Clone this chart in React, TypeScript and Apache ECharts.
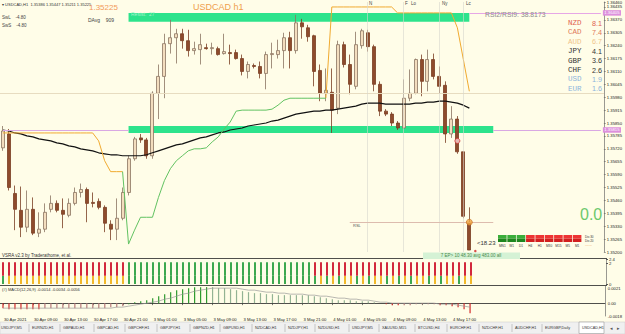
import React, { useEffect, useRef } from 'react';
import * as echarts from 'echarts';

// ---------- DATA ----------
const opens = [1.35725, 1.35795, 1.35495, 1.35410, 1.35325, 1.35415, 1.35295, 1.35315, 1.35415, 1.35445,
  1.35410, 1.35385, 1.35445, 1.35500, 1.35515, 1.35450, 1.35455, 1.35425, 1.35340, 1.35315,
  1.35370, 1.35500, 1.35670, 1.35775, 1.35765, 1.35685, 1.36000, 1.36085, 1.36250, 1.36280,
  1.36300, 1.36265, 1.36215, 1.36220, 1.36230, 1.36225, 1.36225, 1.36200, 1.36205, 1.36205,
  1.36175, 1.36110, 1.36140, 1.36135, 1.36100, 1.36195, 1.36195, 1.36215, 1.36280, 1.36215,
  1.36355, 1.36330, 1.36290, 1.36115, 1.36000, 1.36005, 1.35925, 1.36245, 1.36145, 1.36035,
  1.36240, 1.36305, 1.36235, 1.36045, 1.35910, 1.35895, 1.35850, 1.35825, 1.35975, 1.36000,
  1.36170, 1.36060, 1.36170, 1.36085, 1.36040, 1.35795, 1.35870, 1.35705, 1.35350];
const closes = [1.35810, 1.35525, 1.35415, 1.35325, 1.35415, 1.35295, 1.35315, 1.35400, 1.35445, 1.35410,
  1.35390, 1.35445, 1.35500, 1.35515, 1.35445, 1.35445, 1.35425, 1.35345, 1.35315, 1.35370,
  1.35500, 1.35670, 1.35770, 1.35765, 1.35685, 1.36000, 1.36085, 1.36250, 1.36280, 1.36300,
  1.36265, 1.36215, 1.36225, 1.36245, 1.36225, 1.36230, 1.36195, 1.36210, 1.36200, 1.36175,
  1.36110, 1.36145, 1.36135, 1.36100, 1.36195, 1.36200, 1.36215, 1.36280, 1.36215, 1.36355,
  1.36335, 1.36285, 1.36110, 1.36000, 1.36015, 1.35915, 1.36245, 1.36145, 1.36045, 1.36245,
  1.36315, 1.36235, 1.36045, 1.35910, 1.35895, 1.35850, 1.35825, 1.35975, 1.36000, 1.36170,
  1.36060, 1.36170, 1.36085, 1.36035, 1.35795, 1.35870, 1.35705, 1.35380, 1.35210];
const lows = [1.35710, 1.35510, 1.35310, 1.35275, 1.35300, 1.35285, 1.35275, 1.35300, 1.35400, 1.35400,
  1.35320, 1.35375, 1.35435, 1.35475, 1.35350, 1.35425, 1.35415, 1.35300, 1.35260, 1.35260,
  1.35360, 1.35485, 1.35660, 1.35750, 1.35670, 1.35670, 1.35870, 1.35975, 1.36200, 1.36150,
  1.36225, 1.36185, 1.36195, 1.36145, 1.36220, 1.36195, 1.36190, 1.36195, 1.36145, 1.36170,
  1.36090, 1.36075, 1.36125, 1.36075, 1.36020, 1.36125, 1.36175, 1.36125, 1.36125, 1.36200,
  1.36275, 1.36260, 1.36035, 1.35960, 1.35960, 1.35800, 1.35895, 1.36130, 1.35995, 1.36020,
  1.36225, 1.36210, 1.36010, 1.35885, 1.35885, 1.35835, 1.35815, 1.35820, 1.35960, 1.35995,
  1.35985, 1.36010, 1.36070, 1.36000, 1.35750, 1.35775, 1.35695, 1.35370, 1.35210];
const highs = [1.35835, 1.35820, 1.35535, 1.35530, 1.35510, 1.35475, 1.35400, 1.35445, 1.35485, 1.35460,
  1.35470, 1.35470, 1.35525, 1.35545, 1.35525, 1.35500, 1.35470, 1.35435, 1.35360, 1.35470,
  1.35525, 1.35685, 1.35780, 1.35795, 1.35775, 1.36010, 1.36145, 1.36300, 1.36370, 1.36325,
  1.36325, 1.36320, 1.36260, 1.36300, 1.36250, 1.36255, 1.36235, 1.36300, 1.36245, 1.36220,
  1.36195, 1.36160, 1.36150, 1.36160, 1.36210, 1.36255, 1.36270, 1.36305, 1.36310, 1.36395,
  1.36375, 1.36345, 1.36295, 1.36145, 1.36125, 1.36125, 1.36265, 1.36260, 1.36195, 1.36310,
  1.36325, 1.36320, 1.36245, 1.36060, 1.35920, 1.35905, 1.35860, 1.36070, 1.36120, 1.36175,
  1.36195, 1.36220, 1.36200, 1.36135, 1.36060, 1.35935, 1.35885, 1.35705, 1.35425];
const maValues = [1.35815, 1.35810, 1.35800, 1.35795, 1.35785, 1.35780, 1.35770, 1.35765, 1.35760, 1.35750,
  1.35745, 1.35735, 1.35730, 1.35720, 1.35715, 1.35710, 1.35700, 1.35695, 1.35690, 1.35690,
  1.35685, 1.35685, 1.35685, 1.35685, 1.35690, 1.35700, 1.35710, 1.35720, 1.35730, 1.35740,
  1.35745, 1.35755, 1.35765, 1.35775, 1.35780, 1.35790, 1.35800, 1.35805, 1.35815, 1.35820,
  1.35825, 1.35835, 1.35840, 1.35845, 1.35850, 1.35860, 1.35865, 1.35875, 1.35885, 1.35895,
  1.35900, 1.35905, 1.35910, 1.35910, 1.35915, 1.35915, 1.35920, 1.35925, 1.35930, 1.35935,
  1.35945, 1.35950, 1.35950, 1.35950, 1.35945, 1.35945, 1.35945, 1.35945, 1.35945, 1.35950,
  1.35950, 1.35955, 1.35955, 1.35960, 1.35960, 1.35955, 1.35950, 1.35940, 1.35925];
const _ = null;
const stopDown = [1.35800, 1.35800, 1.35800, 1.35800, 1.35800, 1.35800, 1.35800, 1.35800, 1.35800, 1.35800,
  1.35800, 1.35800, 1.35800, 1.35800, 1.35800, 1.35800, 1.35760, 1.35660, 1.35605, 1.35605,
  1.35605, _, _, _, _, _, _, _, _, _,
  _, _, _, _, _, _, _, _, _, _,
  _, _, _, _, _, _, _, _, _, _,
  _, _, _, _, 1.35975, 1.36435, 1.36435, 1.36435, 1.36435, 1.36435,
  1.36435, 1.36435, 1.36435, 1.36435, 1.36435, 1.36435, 1.36405, 1.36405, 1.36405, 1.36405,
  1.36405, 1.36405, 1.36405, 1.36405, 1.36405, 1.36405, 1.36330, 1.36170, 1.36010];
const stopUp = [_, _, _, _, _, _, _, _, _, _,
  _, _, _, _, _, _, _, _, _, _,
  1.35605, 1.35240, 1.35310, 1.35375, 1.35375, 1.35375, 1.35475, 1.35560, 1.35620, 1.35660,
  1.35685, 1.35710, 1.35720, 1.35720, 1.35725, 1.35755, 1.35780, 1.35820, 1.35855, 1.35910,
  1.35915, 1.35915, 1.35915, 1.35915, 1.35915, 1.35920, 1.35940, 1.35965, 1.35975, 1.35975,
  1.35975, 1.35975, 1.35975, 1.35975, 1.35975, _, _, _, _, _,
  _, _, _, _, _, _, _, _, _, _,
  _, _, _, _, _, _, _, _, _];
const macdHist = [-0.0007, -0.00084, -0.00084, -0.00084, -0.00084, -0.00084, -0.00084, -0.0007, -0.0007, -0.0007,
  -0.0007, -0.0007, -0.0007, -0.0007, -0.0007, -0.0007, -0.0007, -0.0007, -0.00056, -0.00056,
  -0.00042, -0.00014, 0.00014, 0.00028, 0.00042, 0.0007, 0.00098, 0.00126, 0.00154, 0.00182,
  0.00196, 0.0021, 0.00224, 0.00224, 0.00224, 0.00224, 0.0021, 0.0021, 0.00196, 0.00182,
  0.00168, 0.00154, 0.0014, 0.0014, 0.00126, 0.00126, 0.00112, 0.00112, 0.00112, 0.00112,
  0.00112, 0.00112, 0.00098, 0.00084, 0.0007, 0.00056, 0.00042, 0.00042, 0.00042, 0.00028,
  0.00028, 0.00028, 0.00014, 0, -0.00014, -0.00028, -0.00028, -0.00028, -0.00028, -0.00014,
  -0.00014, -0.00014, -0.00014, -0.00028, -0.00028, -0.00042, -0.00056, -0.00084, -0.0014];
const macdSignal = [-0.0007, -0.0007, -0.0007, -0.0007, -0.0007, -0.0007, -0.0007, -0.0007, -0.0007, -0.0007,
  -0.0007, -0.0007, -0.0007, -0.0007, -0.0007, -0.0007, -0.0007, -0.0007, -0.0007, -0.00056,
  -0.00056, -0.00042, -0.00028, -0.00014, 0, 0.00014, 0.00028, 0.00056, 0.0007, 0.00098,
  0.00126, 0.0014, 0.00168, 0.00182, 0.00196, 0.0021, 0.0021, 0.0021, 0.0021, 0.0021,
  0.00196, 0.00182, 0.00182, 0.00168, 0.00154, 0.00154, 0.0014, 0.0014, 0.00126, 0.00126,
  0.00126, 0.00112, 0.00112, 0.00098, 0.00098, 0.00084, 0.0007, 0.0007, 0.00056, 0.00056,
  0.00042, 0.00042, 0.00028, 0.00014, 0.00014, 0, 0, 0, 0, 0,
  0, 0, 0, -0.00014, -0.00014, -0.00014, -0.00028, -0.00042, -0.00056];
// colour codes per bar: R falling-negative, r rising-negative, G rising-positive, g falling-positive
const macdCodes = ('RRRRRRR' + 'rrrrrrrrrrrrrr' + 'GGGGGGGGGGGGGG' + 'ggggggggggggggggggggggggggggg' + 'RRR' + 'rrrrrr' + 'RRRRRR').split('');
// VSRA bar colours (upper / lower part): R red, G green, Y yellow
const vsaTop = ('RRRRRRRRRRRRRRRRRRRRR' + 'GGGGGGGGGGGGGGGGGGGGGGGGGGGGGGG' + 'RRRRRRRRRRRRRRRRRRRRRRRRRRR').split('');
const vsaBottom = ('G' + 'YYYYYYYYYYYYYYYYYYYY' + 'GGGGGGGGGGGGGGGGGGGGGGGGGGGGGGG' + 'GYGYGYYGYGYYGYGYGYYGYGYYGYY').split('');
const vsaLowerHeight = 0.8;
const vsaUpperHeight = 1.3;
const timeLabels = ['30 Apr 2021', '30 Apr 09:00', '30 Apr 13:00', '30 Apr 17:00', '30 Apr 21:00', '3 May 01:00',
  '3 May 05:00', '3 May 09:00', '3 May 13:00', '3 May 17:00', '3 May 21:00', '4 May 01:00', '4 May 05:00',
  '4 May 09:00', '4 May 13:00', '4 May 17:00'];
const tradeMarks = [[76, 1.35760], [78, 1.35350], [79, 1.35205]];
const resistBand = [1.36405, 1.36360];
const supportBand = [1.35835, 1.35800];
const currencyCodes = ['NZD', 'CAD', 'AUD', 'JPY', 'GBP', 'CHF', 'USD', 'EUR'];
const currencyScores = ['8.1', '7.4', '6.7', '4.1', '3.6', '2.6', '1.9', '1.6'];
const tfNames = ['MN1', 'W1', 'D1', 'H4', 'H1', 'M30', 'M15', 'M5', 'M1'];
const tfSignals = ['up', 'up', 'up', 'down', 'down', 'down', 'down', 'down', 'down'];
const tabNames = ['USDJPY,M5', 'EURNZD,H1', 'GBPAUD,H1', 'GBPCAD,H1', 'GBPCHF,H1', 'GBPJPY,H1', 'GBPNZD,H1',
  'GBPUSD,H1', 'NZDCAD,H1', 'NZDJPY,H1', 'NZDUSD,H1', 'USDJPY,M5', 'XAUUSD,M15', 'BTCUSD,H4', 'EURCHF,H1',
  'NZDCHF,H1', 'AUDCHF,H1', 'EURGBP,Daily', 'USDCAD,H1'];

// ---------- STYLE ----------
const FONT = 'Liberation Sans, Arial, sans-serif';
const MONO = 'Liberation Mono, DejaVu Sans Mono, monospace';
const BG = '#FFFDE8';
const curColors = ['#E0604F', '#E07A5A', '#F0C48A', '#333333', '#333333', '#333333', '#8DB4DC', '#8DB4DC'];
const tabX = [1, 32, 63, 97, 128, 160, 193, 223, 255, 288, 318, 352, 382, 418, 450, 482, 515, 545, 582];

const T = (x: number, y: number, text: string, size: number, fill: string, extra: any = {}) => ({
  type: 'text', x, y, silent: true, z: 100,
  style: { text, fill, fontSize: size, fontFamily: FONT, textVerticalAlign: 'middle', verticalAlign: 'middle', ...extra },
});

export default function App() {
  const ref = useRef<HTMLDivElement>(null);
  useEffect(() => {
    const chart = echarts.init(ref.current!, null, { renderer: 'svg' });
    const N = 101;
    const cats = Array.from({ length: N }, (_, i) => 'b' + i);
    const candleData = opens.map((o, i) => [o, closes[i], lows[i], highs[i]]);
    const tag = (text: string, bg: string) => ({
      show: true, position: 'end', formatter: text, backgroundColor: bg, color: '#fff',
      fontSize: 4.2, fontFamily: FONT, padding: [1, 1.5, 0.5, 1.5], distance: 2,
    });
    const vsaCol: any = { R: '#D2283C', G: '#3DA84F', Y: '#F2B82A' };
    const macdCol: any = { R: '#D42A2A', r: '#B87A7A', G: '#2E9A2E', g: '#93B393' };
    const isTick = (idx: number) => idx % 5 === 0 && idx / 5 < timeLabels.length;

    const graphic: any[] = [];
    [258.5, 285.5].forEach((y) => graphic.push({ type: 'line', silent: true, shape: { x1: 0, y1: y, x2: 607, y2: y }, style: { stroke: '#222', lineWidth: 0.8 } }));
    graphic.push(T(2, 4, '\u25BE USDCAD,H1  1.35386 1.35447 1.35211 1.35225', 4, '#333'));
    graphic.push(T(89, 7.5, '1.35225', 8, '#F29A5A'));
    graphic.push(T(193, 6.5, 'USDCAD h1', 9, '#EFA04E'));
    graphic.push(T(2, 17, 'SwL    -4.80', 4.5, '#444'));
    graphic.push(T(2, 25, 'SwS    -4.80', 4.5, '#444'));
    graphic.push(T(88, 20, 'DAvg    909', 5, '#444'));
    graphic.push(T(131, 14, 'Resist:  27', 5, '#A6F5CB'));
    graphic.push(T(485, 14, 'RSI2/RSI9: 38.8173', 6.8, '#8C8C8C'));
    [['N', 369], ['F', 405], ['Lo', 411], ['Ny', 442], ['Lc', 466]].forEach(([t, x]) => graphic.push(T(x as number, 3, t as string, 4.5, '#444')));
    currencyCodes.forEach((c, k) => {
      const y = 23 + k * 9.4;
      graphic.push(T(568, y, c, 7.5, curColors[k], { fontFamily: MONO }));
      graphic.push(T(592, y, currencyScores[k], 7.2, curColors[k], { fontFamily: FONT }));
    });
    graphic.push(T(580, 214, '0.0', 16, '#6CC86C'));
    graphic.push(T(477, 243, '<18.23', 6, '#333'));
    graphic.push(T(353, 225, 'RSL', 4, '#555'));
    tfNames.forEach((n, k) => {
      const x = 498 + k * 9.35;
      const up = tfSignals[k] === 'up';
      graphic.push({ type: 'rect', silent: true, shape: { x, y: 235, width: 8.6, height: 3.5 }, style: { fill: up ? '#3AAE3A' : '#EE3434' } });
      graphic.push({ type: 'rect', silent: true, shape: { x, y: 238.5, width: 8.6, height: 3.5 }, style: { fill: up ? '#1E861E' : '#D21E1E' } });
      graphic.push(T(x + 4.3, 245.3, n, 3.2, '#333', { textAlign: 'center', align: 'center' }));
    });
    graphic.push(T(585, 236.5, 'Dis:30', 3, '#333'));
    graphic.push(T(585, 240.5, 'Dis:20', 3, '#333'));
    graphic.push(T(585, 244.5, '------', 3.5, '#F08A30'));
    graphic.push({ type: 'rect', silent: true, shape: { x: 423, y: 252.5, width: 97, height: 6.5 }, style: { fill: '#D5F2D5' } });
    graphic.push(T(471, 255.8, '7 EP> 10 48.30 avg 483.00 all', 4.5, '#4A8A4A', { textAlign: 'center', align: 'center' }));
    graphic.push(T(2, 255.5, 'VSRA v2.3 by Traderathome, et al.', 4.5, '#333'));
    graphic.push(T(2, 289, '(#) MACD(12,26,9) -0.0014 -0.0034 -0.0056', 4, '#333'));
    graphic.push({ type: 'rect', silent: true, shape: { x: 0, y: 322, width: 625, height: 12 }, style: { fill: '#F0F0F0', stroke: '#C8C8C8', lineWidth: 0.5 } });
    tabNames.forEach((n, k) => {
      const x = tabX[k];
      const active = k === tabNames.length - 1;
      if (active) {
        graphic.push({ type: 'rect', silent: true, shape: { x: x - 3, y: 322, width: 25, height: 11.5 }, style: { fill: '#FFFFFF', stroke: '#999', lineWidth: 0.6 } });
      } else if (k > 0) {
        graphic.push({ type: 'line', silent: true, shape: { x1: x - 3, y1: 324, x2: x - 3, y2: 332 }, style: { stroke: '#A8A8A8', lineWidth: 0.6 } });
      }
      graphic.push(T(x, 328.3, n, 3.8, '#333'));
    });
    graphic.push(T(610, 328.3, '\u25C2', 5, '#555'));
    graphic.push(T(617, 328.3, '\u25B8', 5, '#555'));

    const option: any = {
      animation: false,
      backgroundColor: BG,
      textStyle: { fontFamily: FONT },
      grid: [
        { left: 0, right: 19, top: 0, height: 252 },
        { left: 0, right: 19, top: 259, height: 25 },
        { left: 0, right: 19, top: 286, height: 30 },
      ],
      xAxis: [
        { type: 'category', data: cats, gridIndex: 0, boundaryGap: true, show: false },
        { type: 'category', data: cats, gridIndex: 1, boundaryGap: true, show: false },
        {
          type: 'category', data: cats, gridIndex: 2, boundaryGap: true,
          axisLine: { show: true, lineStyle: { color: '#222', width: 0.8 } },
          axisTick: { show: true, alignWithLabel: true, interval: (i: number) => isTick(i), length: 2, lineStyle: { color: '#222', width: 0.6 } },
          axisLabel: {
            interval: (i: number) => isTick(i), formatter: (_v: string, i: number) => timeLabels[i / 5] || '',
            fontSize: 4.2, color: '#222', align: 'left', margin: 1.5, padding: [0, 0, 0, 1],
          },
        },
      ],
      yAxis: [
        {
          type: 'value', gridIndex: 0, position: 'right', min: 1.352, max: 1.3646, interval: 0.00065,
          splitLine: { show: false },
          axisLine: { show: true, lineStyle: { color: '#555', width: 0.6 } },
          axisTick: { show: true, length: 2, lineStyle: { color: '#555', width: 0.5 } },
          axisLabel: { fontSize: 4.2, color: '#222', margin: 3, formatter: (v: number) => v.toFixed(5) },
        },
        {
          type: 'value', gridIndex: 1, position: 'right', min: 0, max: 2.4, interval: 2,
          splitLine: { show: false },
          axisLine: { show: true, lineStyle: { color: '#555', width: 0.6 } },
          axisTick: { show: true, length: 2 },
          axisLabel: { fontSize: 4.2, color: '#222', margin: 3 },
        },
        {
          type: 'value', gridIndex: 2, position: 'right', min: -0.0018, max: 0.0024, interval: 0.0003,
          splitLine: { show: false },
          axisLine: { show: true, lineStyle: { color: '#555', width: 0.6 } },
          axisTick: { show: false },
          axisLabel: {
            fontSize: 4.2, color: '#222', margin: 3,
            formatter: (v: number) => (Math.abs(v - 0.0021) < 1e-8 ? '0.0021' : Math.abs(v) < 1e-8 ? '0.00' : Math.abs(v + 0.0018) < 1e-8 ? '-0.0018' : ''),
          },
        },
      ],
      series: [
        {
          type: 'line', xAxisIndex: 0, yAxisIndex: 0, data: [], z: 1, silent: true,
          markArea: {
            silent: true,
            itemStyle: { color: '#2DE38C' },
            data: [
              [{ coord: [21, resistBand[0]] }, { coord: [78, resistBand[1]] }],
              [{ coord: [21, supportBand[0]] }, { coord: [82, supportBand[1]] }],
            ],
          },
          markLine: {
            silent: true, symbol: ['none', 'none'], label: { show: false },
            data: [
              { yAxis: 1.36250, lineStyle: { color: '#E6DBBE', width: 0.8, type: 'solid' } },
              { yAxis: 1.35995, lineStyle: { color: '#E6DBBE', width: 0.8, type: 'solid' } },
              { yAxis: 1.35480, lineStyle: { color: '#D8B4CF', width: 1.6, type: 'solid' }, label: tag('1.35480', '#D99AD9') },
              { yAxis: 1.35255, lineStyle: { color: '#C98AE6', width: 1, type: 'solid' }, label: tag('1.35255', '#CC88E8') },
              { yAxis: 1.35230, lineStyle: { color: '#CDCDCD', width: 0.6, type: 'solid' } },
              { yAxis: 1.35210, lineStyle: { opacity: 0 }, label: tag('1.35210', '#000000') },
              { xAxis: 61, lineStyle: { color: '#D6D6CC', width: 0.6, type: 'solid' } },
              { xAxis: 67, lineStyle: { color: '#D6D6CC', width: 0.6, type: 'solid' } },
              { xAxis: 73, lineStyle: { color: '#D6D6CC', width: 0.6, type: 'solid' } },
              { xAxis: 77, lineStyle: { color: '#D6D6CC', width: 0.6, type: 'solid' } },
              [
                { coord: [78, resistBand[0]], lineStyle: { color: '#E6A6E6', width: 1, type: 'solid' }, label: tag('1.36405', '#DD90DD') },
                { coord: [100, resistBand[0]], lineStyle: { color: '#E6A6E6', width: 1, type: 'solid' }, label: tag('1.36405', '#DD90DD') },
              ],
              [
                { coord: [0, 1.35815], lineStyle: { color: '#D9A8E3', width: 1, type: 'solid' } },
                { coord: [21, 1.35815], lineStyle: { color: '#D9A8E3', width: 1, type: 'solid' } },
              ],
              [
                { coord: [82, 1.35815], lineStyle: { color: '#D9A8E3', width: 1, type: 'solid' }, label: tag('1.35815', '#DD90DD') },
                { coord: [100, 1.35815], lineStyle: { color: '#D9A8E3', width: 1, type: 'solid' }, label: tag('1.35815', '#DD90DD') },
              ],
              [
                { coord: [58, 1.35350], lineStyle: { color: '#DDBCAE', width: 1, type: 'solid' } },
                { coord: [82, 1.35350], lineStyle: { color: '#DDBCAE', width: 1, type: 'solid' } },
              ],
            ],
          },
        },
        {
          type: 'candlestick', xAxisIndex: 0, yAxisIndex: 0, data: candleData, barWidth: 3.5, z: 3,
          itemStyle: { color: '#F3DDBE', color0: '#8E4B2C', borderColor: '#8A7461', borderColor0: '#7A3E22', borderWidth: 0.8 },
        },
        { type: 'line', xAxisIndex: 0, yAxisIndex: 0, data: maValues, showSymbol: false, z: 4, lineStyle: { color: '#111', width: 1.2 } },
        { type: 'line', xAxisIndex: 0, yAxisIndex: 0, data: stopDown, showSymbol: false, z: 4, connectNulls: false, lineStyle: { color: '#F0AA30', width: 1 } },
        { type: 'line', xAxisIndex: 0, yAxisIndex: 0, data: stopUp, showSymbol: false, z: 4, connectNulls: false, lineStyle: { color: '#62C262', width: 1 } },
        {
          type: 'scatter', xAxisIndex: 0, yAxisIndex: 0, z: 6,
          data: [
            { value: tradeMarks[0], symbolSize: 5, itemStyle: { color: '#FBD3D3', borderColor: '#D03030', borderWidth: 1 } },
            { value: tradeMarks[1], symbolSize: 6, itemStyle: { color: '#F3A640', borderColor: '#C06A1A', borderWidth: 0.8 } },
            { value: tradeMarks[2], symbolSize: 2.5, itemStyle: { color: '#D02020' } },
          ],
        },
        {
          type: 'bar', xAxisIndex: 1, yAxisIndex: 1, stack: 'vsa', barWidth: 2,
          data: vsaBottom.map((c) => ({ value: vsaLowerHeight, itemStyle: { color: vsaCol[c] } })),
        },
        {
          type: 'bar', xAxisIndex: 1, yAxisIndex: 1, stack: 'vsa', barWidth: 2,
          data: vsaTop.map((c) => ({ value: vsaUpperHeight, itemStyle: { color: vsaCol[c] } })),
        },
        {
          type: 'bar', xAxisIndex: 2, yAxisIndex: 2, barWidth: 1.2,
          data: macdHist.map((v, i) => ({ value: v, itemStyle: { color: macdCol[macdCodes[i]] } })),
        },
        { type: 'line', xAxisIndex: 2, yAxisIndex: 2, data: macdSignal, showSymbol: false, lineStyle: { color: '#9A9A9A', width: 0.7 } },
      ],
      graphic,
    };
    chart.setOption(option);
    return () => chart.dispose();
  }, []);
  return <div ref={ref} style={{ position: 'absolute', left: 0, top: 0, width: 625, height: 334, background: BG }} />;
}
